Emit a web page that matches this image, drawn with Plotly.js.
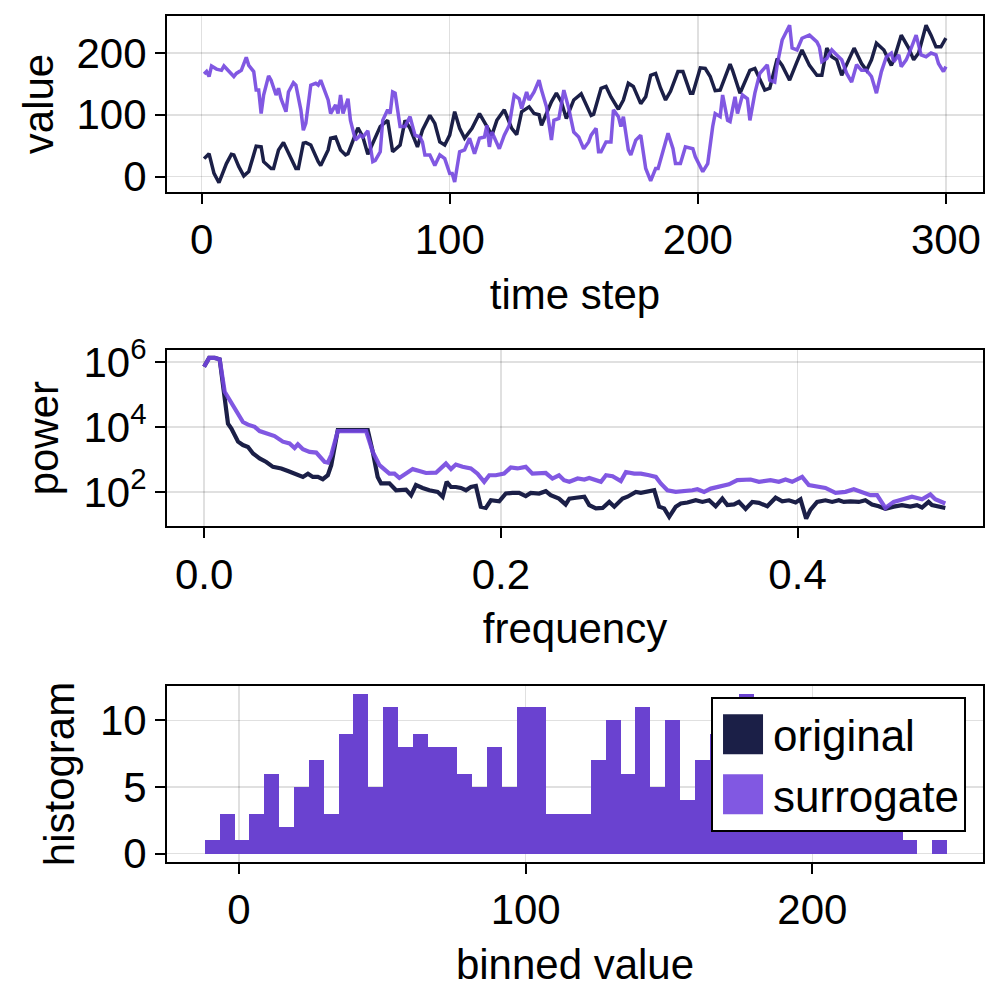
<!DOCTYPE html>
<html><head><meta charset="utf-8">
<script src="https://cdn.plot.ly/plotly-3.0.1.min.js"></script>
<style>html,body{margin:0;padding:0;background:#fff;} #chart{width:1000px;height:1000px;}</style>
</head><body><div id="chart"></div>
<script>
// ---- time series ----
const timeOrig = [1,3,5,7,10,12,13,15,17,19,22,24,25,28,29,31,33,35,38,39,41,42,44,47,48,51,52,54,56,58,59,63,65,67,69,72,75,77,80,82,84,87,89,92,94,96,98,100,102,104,106,109,112,114,116,117,119,122,125,127,129,132,134,136,137,141,143,145,147,149,150,153,157,158,161,163,165,168,170,172,174,177,179,181,183,185,187,189,192,194,197,198,201,203,205,207,209,213,214,217,221,223,227,229,232,234,237,240,242,245,248,250,252,254,256,258,262,263,266,268,270,272,275,278,279,282,285,287,289,292,294,296,298,300];
const valueOrig = [29,37,5,-10,21,36,35,16,1,8,49,48,24,13,13,43,55,37,13,13,54,55,51,24,18,43,62,64,43,35,37,79,64,36,54,81,91,40,51,91,78,48,75,99,86,56,51,67,105,78,62,78,102,89,75,67,91,108,78,68,105,113,102,100,83,121,135,121,94,115,124,134,99,101,143,146,129,109,124,151,146,118,129,164,167,143,124,138,170,170,135,135,176,175,162,139,140,182,172,135,172,175,140,143,191,180,156,186,205,180,164,164,208,194,189,164,197,208,183,172,189,216,205,180,189,229,208,189,200,245,229,210,210,224];
const timeSurr = [1,2,3,4,6,8,9,11,12,13,14,16,18,19,21,22,23,24,25,27,28,30,31,32,34,35,37,38,40,41,42,44,46,47,48,49,51,52,54,55,56,57,59,60,62,64,65,67,69,70,72,73,75,76,77,78,79,80,82,84,86,88,89,90,92,94,96,98,100,101,102,104,106,108,110,112,114,115,116,117,120,122,124,126,128,129,131,132,134,136,137,139,141,142,144,146,148,150,152,154,156,157,159,160,161,163,165,166,168,169,170,172,173,175,177,179,181,183,184,188,190,191,193,195,198,199,202,204,206,207,209,210,212,213,215,216,218,220,221,223,225,228,229,231,232,234,237,238,240,242,245,248,249,250,252,254,256,258,260,262,264,266,268,270,272,274,276,278,279,281,282,284,286,288,290,292,294,296,297,299,300];
const valueSurr = [166,170,162,179,174,172,179,170,167,162,167,172,193,180,170,140,140,102,132,163,156,132,143,126,105,137,152,148,108,75,86,148,151,148,156,145,124,102,116,102,132,102,126,91,59,67,64,74,24,26,40,91,108,102,137,135,108,81,81,97,67,64,56,35,35,18,35,29,5,5,-9,40,43,62,37,62,64,83,48,72,45,67,83,132,126,110,137,124,137,156,140,113,59,91,94,140,110,72,64,45,56,67,78,40,40,56,56,108,97,81,97,43,35,59,67,13,-7,13,13,70,45,21,21,48,45,32,8,21,81,102,97,132,91,89,129,102,132,126,91,135,167,181,156,153,181,221,245,208,205,224,229,218,210,186,191,205,197,189,167,153,181,172,172,162,135,170,194,200,186,197,178,189,208,229,197,194,200,197,183,170,178];

// ---- power spectrum ----
const freqOrig = [0,0.0034,0.0072,0.0105,0.0161,0.0184,0.0229,0.0262,0.0296,0.033,0.0374,0.0419,0.0464,0.052,0.0565,0.0621,0.0666,0.07,0.0733,0.0767,0.08,0.0834,0.0857,0.0901,0.1103,0.1137,0.117,0.1193,0.1249,0.1294,0.1361,0.1395,0.1428,0.1473,0.1518,0.1574,0.1608,0.1635,0.1664,0.1697,0.1731,0.1765,0.1798,0.1832,0.1865,0.1899,0.1933,0.1989,0.2034,0.2078,0.2123,0.2168,0.2202,0.2258,0.2303,0.2336,0.2392,0.2437,0.2462,0.2507,0.2563,0.2596,0.2641,0.2686,0.2731,0.2765,0.2821,0.2854,0.291,0.2944,0.2989,0.3034,0.3067,0.3101,0.3135,0.3179,0.3213,0.3258,0.3314,0.3359,0.3404,0.3448,0.3493,0.3527,0.3572,0.3605,0.365,0.3695,0.374,0.3796,0.3852,0.3897,0.3942,0.3987,0.402,0.4058,0.4087,0.4132,0.4188,0.4233,0.4278,0.4312,0.4357,0.4413,0.4457,0.4502,0.4547,0.4592,0.4648,0.4704,0.476,0.4805,0.4839,0.4883,0.4906,0.4951,0.4996];
const powerOrig = [7.1e5,1.32e6,1.32e6,1.2e6,1.26e4,8.9e3,3.5e3,2.75e3,2.4e3,1.51e3,1.07e3,832,589,525,437,339,288,363,288,288,245,324,661,7.9e3,7.9e3,1.7e3,288,182,182,112,117,79,162,132,112,100,71,204,141,141,132,112,141,151,35,32,55,51,89,93,93,74,93,89,105,79,62,41,62,66,71,39,31,32,49,35,62,71,100,93,100,112,35,31,17,35,44,47,55,49,55,36,62,39,41,49,30,49,46,36,66,51,55,47,59,15,28,49,55,49,55,49,51,49,55,41,36,30,35,39,35,39,33,49,39,35,32];
const freqSurr = [0,0.0034,0.0072,0.0105,0.0139,0.0173,0.0217,0.0262,0.0296,0.0341,0.0374,0.0419,0.0475,0.0531,0.0576,0.061,0.0632,0.0666,0.0711,0.0756,0.0778,0.0812,0.0834,0.0857,0.0901,0.1092,0.1137,0.1182,0.1249,0.1283,0.1316,0.1361,0.1406,0.1451,0.1496,0.1563,0.1596,0.163,0.1664,0.1697,0.1742,0.1798,0.1843,0.1888,0.1922,0.1966,0.2022,0.2067,0.2112,0.2168,0.2213,0.2258,0.2303,0.2348,0.2392,0.2426,0.2462,0.2518,0.2563,0.2596,0.2641,0.2675,0.2709,0.2753,0.2809,0.2843,0.2899,0.2944,0.3,0.3045,0.3078,0.3123,0.3179,0.3247,0.3291,0.3325,0.337,0.3415,0.3471,0.3538,0.3594,0.3684,0.374,0.3818,0.3874,0.3919,0.3964,0.4031,0.4076,0.4132,0.4188,0.4256,0.4323,0.4379,0.4435,0.4491,0.4536,0.4592,0.4648,0.4704,0.4771,0.4839,0.4895,0.4928,0.4996];
const powerSurr = [7.1e5,1.32e6,1.32e6,1.2e6,1.2e5,6.6e4,3.24e4,1.41e4,1.17e4,1e4,7.4e3,6.2e3,5.2e3,3.5e3,3.1e3,2.24e3,2.9e3,2.04e3,1.7e3,1.62e3,1.29e3,832,794,1.35e3,7.4e3,7.4e3,1.7e3,661,363,363,269,363,501,437,380,389,525,741,501,692,589,525,363,204,324,324,363,562,525,589,363,363,380,257,324,229,204,257,240,269,240,204,324,302,214,407,363,363,324,288,182,112,100,105,112,120,100,126,141,170,229,240,204,229,204,240,204,288,162,141,132,93,100,120,100,79,79,32,49,59,71,59,83,59,44];

// ---- histogram (counts) ----
const binCenters = [-9.27,-4.09,1.08,6.26,11.44,16.61,21.79,26.97,32.14,37.32,42.50,47.67,52.85,58.03,63.20,68.38,73.56,78.73,83.91,89.09,94.26,99.44,104.62,109.79,114.97,120.15,125.32,130.50,135.68,140.85,146.03,151.21,156.38,161.56,166.74,171.91,177.09,182.27,187.44,192.62,197.80,202.97,208.15,213.33,218.50,223.68,228.86,234.03,239.21,244.39];
const binCounts = [1,3,1,3,6,2,5,7,3,9,12,5,11,8,9,8,8,6,5,8,5,11,11,3,3,3,7,10,6,11,5,10,4,7,9,8,12,7,6,8,6,5,7,4,5,3,2,1,0,1];
const binWidth = 5.177;

const seriesNames = ['original', 'surrogate'];
const navy = '#1b1f47';
const purple = 'rgba(115,70,223,0.9)';
const FONT = 'Liberation Sans, Arial, sans-serif';

const traces = [
  {x: timeOrig, y: valueOrig, type: 'scatter', mode: 'lines', line: {color: navy, width: 3.5}, xaxis: 'x', yaxis: 'y', showlegend: false, name: seriesNames[0]},
  {x: timeSurr, y: valueSurr, type: 'scatter', mode: 'lines', line: {color: purple, width: 3.5}, xaxis: 'x', yaxis: 'y', showlegend: false, name: seriesNames[1]},
  {x: freqOrig, y: powerOrig, type: 'scatter', mode: 'lines', line: {color: navy, width: 4.2}, xaxis: 'x2', yaxis: 'y2', showlegend: false, name: seriesNames[0]},
  {x: freqSurr, y: powerSurr, type: 'scatter', mode: 'lines', line: {color: purple, width: 4.2}, xaxis: 'x2', yaxis: 'y2', showlegend: false, name: seriesNames[1]},
  {x: binCenters, y: binCounts, width: binWidth, type: 'bar', marker: {color: navy, line: {width: 0}}, xaxis: 'x3', yaxis: 'y3', name: seriesNames[0]},
  {x: binCenters, y: binCounts, width: binWidth, type: 'bar', marker: {color: purple, line: {width: 0}}, xaxis: 'x3', yaxis: 'y3', name: seriesNames[1]}
];

const grid = 'rgba(0,0,0,0.12)';
function ax(extra) {
  return Object.assign({
    showline: true, mirror: true, linecolor: '#000', linewidth: 2,
    ticks: 'outside', ticklen: 10, tickwidth: 2, tickcolor: '#000',
    showgrid: true, gridcolor: grid, gridwidth: 1.5, zeroline: false,
    tickfont: {family: FONT, size: 42, color: '#000'},
    automargin: false
  }, extra);
}
function ttl(t, standoff) { return {text: t, font: {family: FONT, size: 42, color: '#000'}, standoff: standoff}; }

const layout = {
  width: 1000, height: 1000,
  margin: {l: 167, r: 17, t: 16, b: 138},
  paper_bgcolor: '#fff', plot_bgcolor: '#fff',
  font: {family: FONT, size: 42, color: '#000'},
  barmode: 'overlay', bargap: 0,
  xaxis: ax({domain: [0, 1], anchor: 'y', range: [-13.95, 314.95], tickvals: [0, 100, 200, 300], title: ttl('time step', 17)}),
  yaxis: ax({domain: [0.792, 1], anchor: 'x', range: [-25, 260], tickvals: [0, 100, 200], title: ttl('value', 10)}),
  xaxis2: ax({domain: [0, 1], anchor: 'y2', range: [-0.025, 0.525], tickvals: [0, 0.2, 0.4], ticktext: ['0.0', '0.2', '0.4'], title: ttl('frequency', 17)}),
  yaxis2: ax({domain: [0.397, 0.605], anchor: 'x2', type: 'log', range: [0.945, 6.36], tickvals: [1e2, 1e4, 1e6], ticktext: ['10<sup>2</sup>', '10<sup>4</sup>', '10<sup>6</sup>'], title: ttl('power', 12)}),
  xaxis3: ax({domain: [0, 1], anchor: 'y3', range: [-25.1, 259.5], tickvals: [0, 100, 200], title: ttl('binned value', 17)}),
  yaxis3: ax({domain: [0, 0.208], anchor: 'x3', range: [-0.62, 12.57], tickvals: [0, 5, 10], title: ttl('histogram', 12)}),
  showlegend: true,
  legend: {x: 0.6667, y: 0.195, xanchor: 'left', yanchor: 'top', bgcolor: '#fff', bordercolor: '#000', borderwidth: 2,
           font: {family: FONT, size: 44, color: '#000'}, itemwidth: 50, tracegroupgap: 0}
};

Plotly.newPlot('chart', traces, layout, {displayModeBar: false, staticPlot: true}).then(function(gd) {
  document.querySelectorAll('#chart .legendbar, #chart .legendundefined').forEach(function(p) {
    p.setAttribute('d', 'M20,20H-20V-20H20Z');
  });
});
</script>
</body></html>
